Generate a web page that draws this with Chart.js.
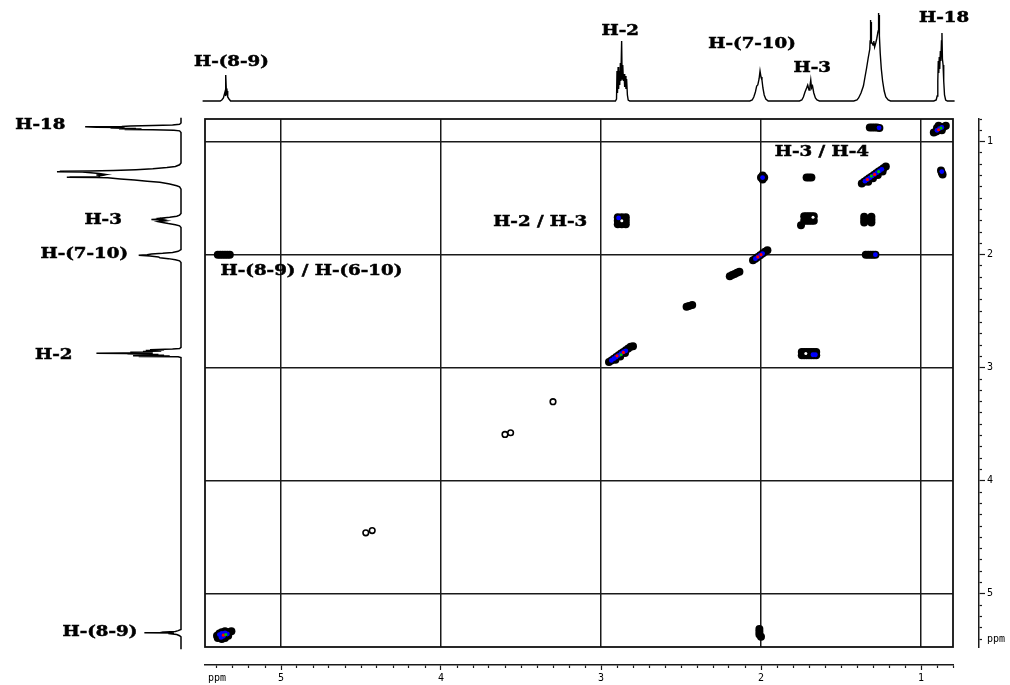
<!DOCTYPE html>
<html>
<head>
<meta charset="utf-8">
<title>COSY</title>
<script src="https://cdn.jsdelivr.net/npm/chart.js@4.4.1/dist/chart.umd.min.js"></script>
<style>
  html, body { margin: 0; padding: 0; background: #fff; }
  #wrap { position: relative; width: 1010px; height: 685px; overflow: hidden; background: #fff; }
  #wrap canvas { position: absolute; left: 0; top: 0; }
</style>
</head>
<body>
<div id="wrap">
  <canvas id="cosy" width="1010" height="685"></canvas>
  <canvas id="proj-top" width="1010" height="110"></canvas>
  <canvas id="proj-left" width="200" height="685"></canvas>
</div>
<script>
// 1H projection (same trace is used on top and on the left)
const spectrumPpm = [
  5.49, 5.38, 5.37, 5.36, 5.355, 5.35, 5.347, 5.344, 5.341, 5.337, 5.333, 5.325, 5.315,
  2.91, 2.903, 2.9, 2.897, 2.893, 2.89, 2.886, 2.883, 2.879, 2.876, 2.871, 2.868, 2.864, 2.86, 2.856, 2.852, 2.848, 2.844, 2.84, 2.835, 2.83, 2.82,
  2.07, 2.055, 2.045, 2.035, 2.027, 2.02, 2.012, 2.006, 2.0, 1.994, 1.988, 1.98, 1.97, 1.955,
  1.76, 1.745, 1.735, 1.725, 1.715, 1.708, 1.7, 1.694, 1.689, 1.684, 1.678, 1.67, 1.66, 1.65, 1.635,
  1.42, 1.4, 1.39, 1.375, 1.36, 1.35, 1.34, 1.33, 1.32, 1.318, 1.316, 1.314, 1.312, 1.31, 1.305, 1.3, 1.295, 1.29, 1.283, 1.277, 1.27, 1.268, 1.266, 1.264, 1.262, 1.26, 1.255, 1.248, 1.24, 1.23, 1.22, 1.205, 1.19,
  0.92, 0.905, 0.899, 0.895, 0.892, 0.889, 0.886, 0.883, 0.879, 0.876, 0.872, 0.869, 0.866, 0.862, 0.858, 0.853, 0.846, 0.835, 0.79
];
const spectrumIntensity = [
  0, 0, 1, 3, 6, 9, 5, 26, 8, 10, 4, 2, 0,
  0, 2, 30, 8, 34, 12, 30, 16, 38, 20, 60, 22, 36, 20, 27, 14, 25, 12, 22, 6, 1, 0,
  0, 1, 4, 9, 15, 16, 22, 30, 24, 21, 13, 6, 2, 0,
  0, 1, 4, 9, 13, 16, 11, 15, 21, 13, 15, 8, 3, 1, 0,
  0, 1, 3, 8, 15, 24, 33, 43, 52, 60, 81, 62, 79, 58, 58, 56, 60, 54, 58, 62, 68, 70, 88, 72, 86, 65, 48, 32, 20, 10, 4, 1, 0,
  0, 1, 5, 20, 40, 28, 44, 32, 50, 40, 60, 68, 42, 36, 20, 6, 1, 0, 0
];

// COSY contour levels, [F2 ppm, F1 ppm]
const contourLow = [
  // 0.88 diagonal
  [0.92, 0.92], [0.905, 0.91], [0.89, 0.9], [0.875, 0.885], [0.86, 0.87], [0.845, 0.86],
  [0.9, 0.88], [0.88, 0.87], [0.87, 0.9], [0.89, 0.86],
  // 1.29 / 0.88
  [1.32, 0.876], [1.305, 0.876], [1.29, 0.876], [1.275, 0.876], [1.26, 0.88],
  // 0.87 / 1.27
  [0.875, 1.255], [0.87, 1.275], [0.865, 1.29],
  // 1.99 / 1.32
  [2.0, 1.318], [1.98, 1.318], [1.99, 1.3], [1.99, 1.335],
  // 1.69 / 1.32
  [1.715, 1.318], [1.7, 1.318], [1.685, 1.318],
  // 1.27 diagonal
  [1.37, 1.37], [1.355, 1.355], [1.34, 1.34], [1.325, 1.325], [1.31, 1.31], [1.295, 1.295],
  [1.28, 1.28], [1.265, 1.265], [1.25, 1.25], [1.235, 1.235], [1.22, 1.22],
  [1.33, 1.355], [1.3, 1.325], [1.27, 1.295], [1.24, 1.265],
  // 1.70 diagonal
  [1.73, 1.66], [1.715, 1.66], [1.7, 1.66], [1.685, 1.66], [1.67, 1.66],
  [1.73, 1.7], [1.715, 1.7], [1.7, 1.7], [1.685, 1.7], [1.67, 1.7], [1.75, 1.74],
  // 1.33 / 1.69
  [1.355, 1.69], [1.34, 1.69], [1.325, 1.69], [1.31, 1.69],
  [1.355, 1.665], [1.355, 1.715], [1.31, 1.665], [1.31, 1.715],
  // 2.0 diagonal
  [2.05, 2.05], [2.035, 2.035], [2.02, 2.02], [2.005, 2.005], [1.99, 1.99], [1.975, 1.975], [1.96, 1.96],
  // 1.31 / 2.0
  [1.345, 2.0], [1.33, 2.0], [1.315, 2.0], [1.3, 2.0], [1.285, 2.0],
  // 2.87 / 1.70
  [2.895, 1.67], [2.87, 1.67], [2.845, 1.67], [2.895, 1.7], [2.845, 1.7],
  [2.895, 1.73], [2.87, 1.73], [2.845, 1.73],
  // small diagonal peaks
  [2.195, 2.19], [2.18, 2.18], [2.165, 2.17], [2.15, 2.16], [2.135, 2.15],
  [2.465, 2.46], [2.45, 2.455], [2.43, 2.445],
  // 2.87 diagonal
  [2.95, 2.95], [2.935, 2.935], [2.92, 2.92], [2.905, 2.905], [2.89, 2.89], [2.875, 2.875],
  [2.86, 2.86], [2.845, 2.845], [2.83, 2.83], [2.815, 2.815], [2.8, 2.81],
  [2.91, 2.93], [2.88, 2.9], [2.85, 2.87],
  // 1.70 / 2.87
  [1.745, 2.86], [1.73, 2.86], [1.715, 2.86], [1.7, 2.86], [1.685, 2.86], [1.67, 2.86], [1.655, 2.86],
  [1.745, 2.89], [1.73, 2.89], [1.715, 2.89], [1.7, 2.89], [1.685, 2.89], [1.67, 2.89], [1.655, 2.89],
  // 5.35 / 2.0
  [5.395, 2.0], [5.38, 2.0], [5.365, 2.0], [5.35, 2.0], [5.335, 2.0], [5.32, 2.0],
  // 5.35 diagonal
  [5.4, 5.37], [5.385, 5.35], [5.37, 5.34], [5.35, 5.33], [5.33, 5.34], [5.31, 5.33],
  [5.395, 5.39], [5.37, 5.4], [5.35, 5.39], [5.33, 5.37], [5.36, 5.36],
  // 2.0 / 5.34
  [2.01, 5.31], [2.01, 5.335], [2.01, 5.36], [2.0, 5.38]
];
const contourMid = [
  [0.9, 0.9], [0.885, 0.885], [0.87, 0.875],
  [1.262, 0.878],
  [0.87, 1.265],
  [1.99, 1.318],
  [1.35, 1.35], [1.335, 1.335], [1.32, 1.32], [1.305, 1.305], [1.29, 1.29], [1.275, 1.275], [1.26, 1.26], [1.245, 1.245],
  [2.035, 2.035], [2.02, 2.02], [2.005, 2.005], [1.99, 1.99],
  [1.285, 2.0],
  [2.89, 1.675],
  [2.935, 2.935], [2.92, 2.92], [2.905, 2.905], [2.89, 2.89], [2.875, 2.875], [2.86, 2.86], [2.845, 2.85],
  [1.675, 2.885], [1.66, 2.885],
  [5.385, 5.36], [5.37, 5.35], [5.35, 5.345], [5.335, 5.355], [5.36, 5.375], [5.375, 5.385]
];
const contourHigh = [
  [0.89, 0.895],
  [1.335, 1.335], [1.29, 1.29],
  [2.0, 2.0], [2.02, 2.02],
  [2.9, 2.895], [2.86, 2.865],
  [5.36, 5.365]
];
const contourTop = [
  [0.875, 0.88],
  [1.31, 1.305], [1.265, 1.265],
  [2.875, 2.885],
  [5.345, 5.36]
];
const contourHoles = [
  [1.675, 1.67], [2.87, 1.7], [1.72, 2.875]
];
const contourWeak = [
  [3.3, 3.3],
  [3.6, 3.59], [3.565, 3.575],
  [4.47, 4.46], [4.43, 4.44]
];

const topLabels = ['H-(8-9)', 'H-2', 'H-(7-10)', 'H-3', 'H-18'];
const topLabelPpm = [5.31, 2.88, 2.056, 1.68, 0.856];
const topLabelHeight = [39, 70, 57, 33, 83];

const sideLabels = ['H-18', 'H-3', 'H-(7-10)', 'H-2', 'H-(8-9)'];
const sideLabelPpm = [0.853, 1.7, 2.0, 2.89, 5.34];
const sideLabelHeight = [82, 42, 37.6, 77, 31];

const crossLabels = ['H-3 / H-4', 'H-2 / H-3', 'H-(8-9) / H-(6-10)'];
const crossLabelF2 = [1.62, 3.38, 4.81];
const crossLabelF1 = [1.092, 1.71, 2.15];

const PPM_MIN = 0.8;
const F2_MAX = 5.475;
const F1_MAX = 5.47;

Chart.defaults.font.family = '"DejaVu Sans", sans-serif';

const isWhole = v => Math.abs(v - Math.round(v)) < 1e-6;
const rulerLabel = v => Math.abs(v - 5.4) < 1e-6 ? 'ppm' : (isWhole(v) ? String(Math.round(v)) : '');
const minorDash = c => (c.tick && isWhole(c.tick.value)) ? [] : [2.5, 20];
const toPoints = arr => arr.map(p => ({ x: p[0], y: p[1] }));

function drawLabels(chart, texts, xs, ys, align) {
  const ctx = chart.ctx;
  const sx = chart.scales.x, sy = chart.scales.y;
  ctx.save();
  ctx.fillStyle = '#000';
  ctx.strokeStyle = '#000';
  ctx.lineWidth = 0.5;
  ctx.font = 'bold 14px "DejaVu Serif"';
  ctx.textAlign = align;
  ctx.textBaseline = 'middle';
  texts.forEach((t, i) => {
    ctx.save();
    ctx.translate(sx.getPixelForValue(xs[i]), sy.getPixelForValue(ys[i]));
    ctx.scale(1.3, 1);
    ctx.fillText(t, 0, 0);
    ctx.strokeText(t, 0, 0);
    ctx.restore();
  });
  ctx.restore();
}

// grid scale sits on the chart area, ruler scale is pushed outwards
function gridScale(pos, max, gap) {
  return {
    type: 'linear', position: pos, reverse: true, min: PPM_MIN, max: max, weight: 0,
    ticks: { display: false, stepSize: 1, includeBounds: false },
    grid: { color: '#1a1a1a', lineWidth: 1.5, drawTicks: false },
    border: { display: false },
    afterFit: s => { if (pos === 'bottom') s.height = gap; else s.width = gap; }
  };
}
function rulerScale(pos, max, size) {
  return {
    type: 'linear', position: pos, reverse: true, min: PPM_MIN, max: max, weight: 1,
    ticks: {
      stepSize: 0.1, autoSkip: false, includeBounds: false, maxTicksLimit: 200, maxRotation: 0,
      padding: 2, color: '#000', font: { family: '"DejaVu Sans Mono", monospace', size: 10 },
      callback: rulerLabel
    },
    grid: {
      drawOnChartArea: false, tickLength: pos === 'bottom' ? 5 : 6,
      tickColor: '#1a1a1a', tickWidth: 1.2, tickBorderDash: minorDash
    },
    border: { display: true, color: '#1a1a1a', width: 1.5 },
    afterFit: s => { if (pos === 'bottom') s.height = size; else s.width = size; }
  };
}

const framePlugin = {
  id: 'frame',
  beforeDatasetsDraw(chart) {
    const { left, top, right, bottom } = chart.chartArea;
    const ctx = chart.ctx;
    ctx.save();
    ctx.strokeStyle = '#111';
    ctx.lineWidth = 1.8;
    ctx.strokeRect(left, top, right - left, bottom - top);
    ctx.restore();
  }
};

const dot = (data, color, r, order) => ({
  data: toPoints(data), pointStyle: 'circle', pointRadius: r, pointHoverRadius: r,
  pointBackgroundColor: color, pointBorderColor: color, pointBorderWidth: 0, order: order
});

new Chart(document.getElementById('cosy'), {
  type: 'scatter',
  data: {
    datasets: [
      dot(contourHoles, '#ffffff', 1.5, 0),
      dot(contourTop, '#00c000', 1.6, 1),
      dot(contourHigh, '#ff0000', 1.6, 2),
      dot(contourMid, '#0000ff', 2.4, 3),
      dot(contourLow, '#000000', 4, 4),
      {
        data: toPoints(contourWeak), pointStyle: 'circle', pointRadius: 2.8,
        pointBackgroundColor: '#fff', pointBorderColor: '#000', pointBorderWidth: 1.6, order: 5
      }
    ]
  },
  options: {
    responsive: false, animation: false, devicePixelRatio: 1,
    layout: { padding: { left: 205, top: 119, right: 0, bottom: 0 }, autoPadding: false },
    scales: {
      x: gridScale('bottom', F2_MAX, 18),
      xRuler: rulerScale('bottom', F2_MAX, 20),
      y: gridScale('right', F1_MAX, 26),
      yRuler: rulerScale('right', F1_MAX, 31)
    },
    plugins: { legend: { display: false }, tooltip: { enabled: false } }
  },
  plugins: [framePlugin, {
    id: 'crossLabels',
    afterDatasetsDraw: c => drawLabels(c, crossLabels, crossLabelF2, crossLabelF1, 'center')
  }]
});

new Chart(document.getElementById('proj-top'), {
  type: 'scatter',
  data: {
    datasets: [{
      data: spectrumPpm.map((p, i) => ({ x: p, y: spectrumIntensity[i] })),
      showLine: true, borderColor: '#000', borderWidth: 1.4, pointRadius: 0, clip: false
    }]
  },
  options: {
    responsive: false, animation: false, devicePixelRatio: 1,
    layout: { padding: { left: 205, right: 57, top: 0, bottom: 9 }, autoPadding: false },
    scales: {
      x: { type: 'linear', reverse: true, min: PPM_MIN, max: F2_MAX, display: false },
      y: { type: 'linear', min: 0, max: 101, display: false }
    },
    plugins: { legend: { display: false }, tooltip: { enabled: false } }
  },
  plugins: [{
    id: 'topLabels',
    afterDatasetsDraw: c => drawLabels(c, topLabels, topLabelPpm, topLabelHeight, 'center')
  }]
});

new Chart(document.getElementById('proj-left'), {
  type: 'scatter',
  data: {
    datasets: [{
      data: spectrumPpm.map((p, i) => ({ x: spectrumIntensity[i], y: p })),
      showLine: true, borderColor: '#000', borderWidth: 1.5, pointRadius: 0, clip: false
    }]
  },
  options: {
    responsive: false, animation: false, devicePixelRatio: 1,
    layout: { padding: { left: 0, right: 19, top: 119, bottom: 38 }, autoPadding: false },
    scales: {
      x: { type: 'linear', reverse: true, min: 0, max: 128.4, display: false },
      y: { type: 'linear', reverse: true, min: PPM_MIN, max: F1_MAX, display: false }
    },
    plugins: { legend: { display: false }, tooltip: { enabled: false } }
  },
  plugins: [{
    id: 'sideLabels',
    afterDatasetsDraw: c => drawLabels(c, sideLabels, sideLabelHeight, sideLabelPpm, 'right')
  }]
});
</script>
</body>
</html>
